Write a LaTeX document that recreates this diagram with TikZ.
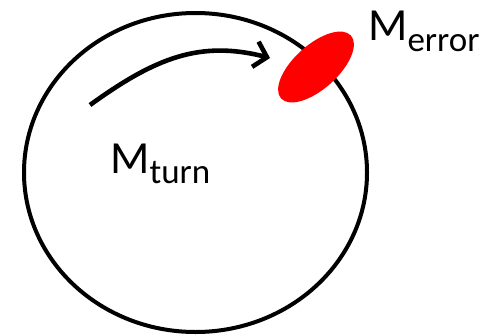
\documentclass[tikz,border=0pt]{standalone}
\usepackage{fontspec}
\setmainfont{Carlito}
\usetikzlibrary{arrows.meta,shapes.geometric}
\begin{document}
\begin{tikzpicture}[x=1pt,y=-1pt,
  ringstyle/.style={draw=black, line width=4pt, ellipse, inner sep=0pt,
    minimum width=343pt, minimum height=319pt},
  blob/.style={fill=red, ellipse, inner sep=0pt, minimum width=94pt, minimum height=44pt},
  turnarrow/.style={line width=4.6pt, -{Straight Barb[length=12pt,width=26pt]}},
  lbl/.style={inner sep=0pt, anchor=base west, font=\fontsize{46}{46}\selectfont}]
\useasboundingbox (0,0) rectangle (489,335);
\node[ringstyle] (ring) at (195.5,172.5) {};
\node[blob, rotate=42] (err) at (316,67) {};
\coordinate (a0) at (90,105);
\coordinate (a1) at (270,58);
\draw[turnarrow] (a0) .. controls (155,58) and (200,40) .. (a1);
\node[lbl] (mturn) at (110,173) {M\raisebox{-10pt}{\fontsize{35}{35}\selectfont turn}};
\node[lbl] (merr) at (368,40) {M\raisebox{-11pt}{\fontsize{35}{35}\selectfont error}};
\end{tikzpicture}
\end{document}
